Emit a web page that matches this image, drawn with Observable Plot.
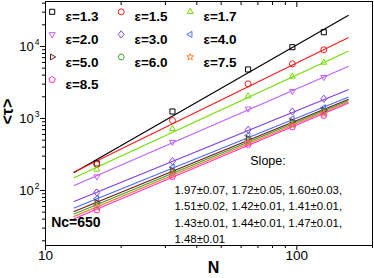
<!DOCTYPE html>
<html><head><meta charset="utf-8">
<script src="https://cdn.jsdelivr.net/npm/d3@7"></script>
<script src="https://cdn.jsdelivr.net/npm/@observablehq/plot@0.6"></script>
<style>body{margin:0;background:#fff} svg{display:block}</style>
</head><body><div id="chart"></div>
<script>
// ---- data ----
const N = [16, 32, 64, 96, 128];
const epsLabels = ["ε=1.3","ε=1.5","ε=1.7","ε=2.0","ε=3.0","ε=4.0","ε=5.0","ε=6.0","ε=7.5","ε=8.5"];
const tau13 = [237, 1250, 4800, 9780, 15800];
const tau15 = [230, 938, 3035, 5755, 9000];
const tau17 = [196, 719, 2042, 3830, 5995];
const tau20 = [156, 469, 1365, 2395, 3748];
const tau30 = [93.8, 255, 697, 1250, 1879];
const tau40 = [77.4, 211, 581, 991, 1408];
const tau50 = [68, 190, 528, 908, 1291];
const tau60 = [63, 178, 495, 851, 1230];
const tau75 = [59, 167, 464, 812, 1172];
const tau85 = [53.6, 156, 435, 762, 1102];
const fitN = [13, 160];
const fit13 = [178, 26970];
const fit15 = [181, 13200];
const fit17 = [150, 8580];
const fit20 = [117, 5280];
const fit30 = [70.3, 2507];
const fit40 = [57.1, 1977];
const fit50 = [51.1, 1836];
const fit60 = [47.2, 1762];
const fit75 = [43.6, 1695];
const fit85 = [40.5, 1626];
const slopeTitle = "Slope:";
const slopeRows = ["1.97±0.07, 1.72±0.05, 1.60±0.03,", "1.51±0.02, 1.42±0.01, 1.41±0.01,", "1.43±0.01, 1.44±0.01, 1.47±0.01,", "1.48±0.01"];
const ncLabel = "Nc=650";
const xMajor = [10, 100];
const xMinor = [20, 30, 40, 50, 60, 70, 80, 90, 200];
const yMajor = [100, 1000, 10000];
const yMajorExp = ["2", "3", "4"];
const yMinor = [20,30,40,50,60,70,80,90,200,300,400,500,600,700,800,900,2000,3000,4000,5000,6000,7000,8000,9000,20000,30000,40000];

// ---- styles ----
const colors = ["#000000","#ff1a1a","#72e000","#c060ff","#7f3fdf","#4a6cff","#7a1515","#33a533","#ff7f2a","#ff33cc"];
function sym(fn){ return {draw(ctx, size){ fn(ctx, Math.sqrt(size/Math.PI)); }}; }
function poly(ctx, pts){ ctx.moveTo(pts[0][0], pts[0][1]); for (let i=1;i<pts.length;i++) ctx.lineTo(pts[i][0], pts[i][1]); ctx.closePath(); }
function reg(ctx, n, R, rot){ const p=[]; for(let i=0;i<n;i++){const a=rot+i*2*Math.PI/n; p.push([R*Math.cos(a), R*Math.sin(a)]);} poly(ctx,p); }
const symbols = [
  sym((c,r)=>{const s=r*0.85; poly(c,[[-s,-s],[s,-s],[s,s],[-s,s]]);}),
  sym((c,r)=>{c.moveTo(r,0); c.arc(0,0,r,0,2*Math.PI);}),
  sym((c,r)=>reg(c,3,r*1.15,-Math.PI/2)),
  sym((c,r)=>reg(c,3,r*1.15,Math.PI/2)),
  sym((c,r)=>poly(c,[[0,-r*1.2],[r*1.0,0],[0,r*1.2],[-r*1.0,0]])),
  sym((c,r)=>reg(c,3,r*1.15,Math.PI)),
  sym((c,r)=>reg(c,3,r*1.15,0)),
  sym((c,r)=>reg(c,6,r*1.05,0)),
  sym((c,r)=>{const p=[]; for(let i=0;i<10;i++){const a=-Math.PI/2+i*Math.PI/5; const R=i%2?r*0.5:r*1.2; p.push([R*Math.cos(a),R*Math.sin(a)]);} poly(c,p);}),
  sym((c,r)=>reg(c,5,r*1.1,-Math.PI/2))
];

const taus = [tau13,tau15,tau17,tau20,tau30,tau40,tau50,tau60,tau75,tau85];
const fits = [fit13,fit15,fit17,fit20,fit30,fit40,fit50,fit60,fit75,fit85];

const marks = [];
fits.forEach((f,i)=>{
  marks.push(Plot.line(fitN.map((n,j)=>({N:n, tau:f[j]})), {x:"N", y:"tau", stroke: colors[i], strokeWidth: 1.2}));
});
taus.forEach((t,i)=>{
  marks.push(Plot.dot(N.map((n,j)=>({N:n, tau:t[j]})), {x:"N", y:"tau", stroke: colors[i], symbol: symbols[i], r: 3, strokeWidth: 1, fill: "none"}));
});
// legend
epsLabels.forEach((lab,i)=>{
  const col = i%3, row = Math.floor(i/3);
  marks.push(Plot.dot([lab], {frameAnchor:"top-left", dx: 6.7+col*69, dy: 10.3+row*22.6, stroke: colors[i], symbol: symbols[i], r: 3, strokeWidth: 1, fill:"none"}));
  marks.push(Plot.text([lab], {frameAnchor:"top-left", dx: 20+col*69, dy: 10.3+row*22.6, text: d=>d, textAnchor:"start", fontWeight:"bold", fontSize: 13.5, fill:"#000"}));
});
// annotations
marks.push(Plot.text([slopeTitle], {frameAnchor:"bottom-left", dx: 222.5, dy: -81, text:d=>d, textAnchor:"middle", fontSize: 12.5, fill:"#000"}));
marks.push(Plot.text([slopeRows.join("\n")], {frameAnchor:"bottom-left", dx: 129, dy: -32.3, text:d=>d, textAnchor:"start", lineAnchor:"middle", lineHeight: 1.44, fontSize: 11.4, fill:"#000"}));
marks.push(Plot.text([ncLabel], {frameAnchor:"bottom-left", dx: 5.7, dy: -18.3, text:d=>d, textAnchor:"start", fontWeight:"bold", fontSize: 14, fill:"#000"}));
// axes
marks.push(Plot.frame({stroke:"#000", strokeWidth: 1}));
marks.push(Plot.axisY({ticks: yMajor, tickSize: 5, tickFormat: ()=>"", label: null}));
marks.push(Plot.axisY({ticks: yMinor, tickSize: 3, tickFormat: ()=>"", label: null}));
marks.push(Plot.axisX({ticks: xMajor, tickSize: 5, tickFormat: ()=>"", label: null}));
marks.push(Plot.axisX({ticks: xMinor, tickSize: 3, tickFormat: ()=>"", label: null}));
marks.push(Plot.axisX({anchor:"top", ticks: xMajor, tickSize: 5, dy: 5, tickFormat: ()=>"", label: null}));
marks.push(Plot.axisX({anchor:"top", ticks: xMinor, tickSize: 3, dy: 3, tickFormat: ()=>"", label: null}));
marks.push(Plot.text(yMajor, {y: d=>d, frameAnchor:"left", dx: -11.7, text: ()=>"10", textAnchor:"end", fontSize: 13, fill:"#000"}));
marks.push(Plot.text(yMajor, {y: d=>d, frameAnchor:"left", dx: -10.7, dy: -4.5, text: (d,i)=>yMajorExp[i], textAnchor:"start", fontSize: 8.5, fill:"#000"}));
marks.push(Plot.text(xMajor, {x: d=>d, frameAnchor:"bottom", dy: 14.5, text: d=>String(d), fontSize: 13.5, fill:"#000"}));
marks.push(Plot.text(["N"], {frameAnchor:"bottom", dx: 4.5, dy: 27, text:d=>d, fontWeight:"bold", fontSize: 16, fill:"#000"}));
marks.push(Plot.text(["<τ>"], {frameAnchor:"left", dx: -38, dy: 1, rotate: -90, text:d=>d, fontWeight:"bold", fontSize: 16, fill:"#000"}));

const chart = Plot.plot({
  width: 374, height: 278,
  marginLeft: 45, marginRight: 2, marginTop: 1, marginBottom: 33,
  style: {fontFamily: "'Liberation Sans', Arial, sans-serif", background: "#fff", overflow: "visible"},
  x: {type: "log", domain: [10, 200], axis: null},
  y: {type: "log", domain: [17.2, 42200], axis: null},
  marks
});
document.getElementById("chart").appendChild(chart);
</script>
</body></html>
